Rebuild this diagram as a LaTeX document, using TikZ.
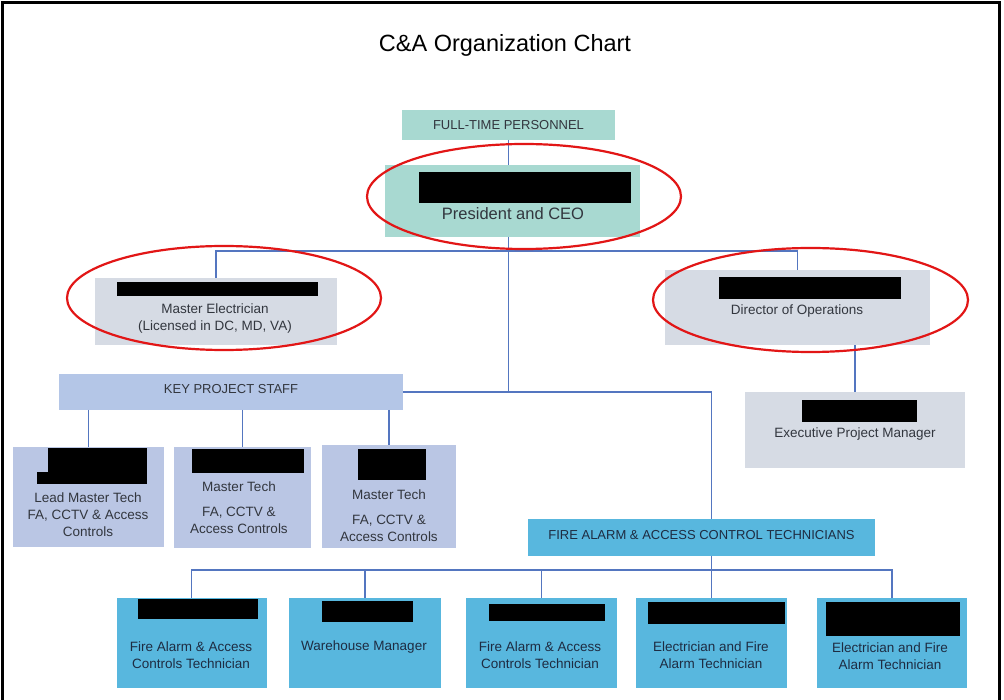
\documentclass[tikz,border=0pt]{standalone}
\usepackage{fontspec}
\setmainfont{Liberation Sans}
\usepackage{xcolor}
\definecolor{caTeal}{RGB}{168, 217, 209}
\definecolor{caGrey}{RGB}{214, 219, 228}
\definecolor{caPeri}{RGB}{180, 198, 231}
\definecolor{caLav}{RGB}{186, 198, 228}
\definecolor{caSky}{RGB}{88, 183, 222}
\definecolor{caLine}{RGB}{84, 118, 192}
\definecolor{caRing}{RGB}{226, 22, 22}
\definecolor{caInk}{RGB}{50, 54, 62}
\definecolor{caNavy}{RGB}{30, 44, 66}

\begin{document}
\begin{tikzpicture}[
    x=1pt, y=-1pt,
    orgBox/.style={
        rectangle, draw=none, outer sep=0pt, inner sep=0pt,
        text=caInk, align=center
    },
    tealBox/.style={orgBox, fill=caTeal},
    greyBox/.style={orgBox, fill=caGrey},
    periBox/.style={orgBox, fill=caPeri},
    lavBox/.style={orgBox, fill=caLav},
    skyBox/.style={orgBox, fill=caSky, text=caNavy},
    capsText/.style={font=\fontsize{13}{15}\selectfont},
    boxText/.style={
        inner sep=0pt, text=caInk, align=center,
        font=\fontsize{13.5}{17}\selectfont
    },
    skyText/.style={boxText, text=caNavy},
    redactBar/.style={fill=black},
    linkLine/.style={draw=caLine, line width=1.5pt},
    ringMark/.style={draw=caRing, line width=2.2pt}
]

    % page and frame
    \useasboundingbox[fill=white] (0,0) rectangle (1004,700);
    \draw[line width=3pt] (2.5,706) -- (2.5,2.5) -- (999.5,2.5) -- (999.5,706);

    \node[inner sep=0pt, text=black, font=\fontsize{23.5}{28}\selectfont] (title) at (505,45) {C\&A Organization Chart};

    % Boxes
    \node[tealBox, capsText, minimum width=213pt, minimum height=30pt] (fullTime) at (508.5,125) {FULL-TIME PERSONNEL};
    \node[tealBox, minimum width=255pt, minimum height=72pt] (ceo) at (512.5,201) {};

    \node[greyBox, minimum width=242pt, minimum height=67pt] (masterElec) at (216,311.5) {};
    \node[greyBox, minimum width=265pt, minimum height=75pt] (dirOps) at (797.5,307.5) {};
    \node[greyBox, minimum width=220pt, minimum height=76pt] (execPM) at (855,430) {};

    \node[periBox, capsText, minimum width=344pt, minimum height=36pt, text depth=6pt] (keyStaff) at (231,392) {KEY PROJECT STAFF};
    \node[lavBox, minimum width=151pt, minimum height=100pt] (leadTech) at (88.5,497) {};
    \node[lavBox, minimum width=137pt, minimum height=101pt] (techB) at (242.5,497.5) {};
    \node[lavBox, minimum width=134pt, minimum height=103pt] (techC) at (389,496.5) {};

    \node[skyBox, capsText, minimum width=347pt, minimum height=37pt, text depth=6pt] (fireTeam) at (701.5,537.5) {FIRE ALARM \& ACCESS CONTROL TECHNICIANS};
    \node[skyBox, minimum width=150pt, minimum height=90pt] (fa1) at (191.5,643) {};
    \node[skyBox, minimum width=152pt, minimum height=90pt] (fa2) at (365,643) {};
    \node[skyBox, minimum width=151pt, minimum height=90pt] (fa3) at (541.5,643) {};
    \node[skyBox, minimum width=151pt, minimum height=90pt] (fa4) at (711.5,643) {};
    \node[skyBox, minimum width=150pt, minimum height=90pt] (fa5) at (892,643) {};

    % Redacted names
    \fill[redactBar] (419,172) rectangle (631,203);
    \fill[redactBar] (117,282) rectangle (318,296);
    \fill[redactBar] (719,277) rectangle (901,299);
    \fill[redactBar] (802,400) rectangle (917,422);
    \fill[redactBar] (48,448) rectangle (147,484);
    \fill[redactBar] (37,472) rectangle (48,484);
    \fill[redactBar] (192,449) rectangle (304,473);
    \fill[redactBar] (358,449) rectangle (426,480);
    \fill[redactBar] (138,599) rectangle (258,619);
    \fill[redactBar] (322,601) rectangle (413,622);
    \fill[redactBar] (489,604) rectangle (605,621);
    \fill[redactBar] (648,602) rectangle (785,624);
    \fill[redactBar] (826,602) rectangle (960,636);

    % Titles
    \node[boxText, font=\fontsize{16.5}{20}\selectfont] (ceoRole) at (513,214) {President and CEO};
    \node[boxText] (elecRole) at (215,318.5) {Master Electrician\\(Licensed in DC, MD, VA)};
    \node[boxText] (opsRole) at (797,311) {Director of Operations};
    \node[boxText] (pmRole) at (855,434) {Executive Project Manager};

    \node[boxText] (leadRole) at (88,515) {Lead Master Tech\\FA, CCTV \& Access\\Controls};
    \node[boxText] (techBRole) at (239,487) {Master Tech};
    \node[boxText] (techBArea) at (239,520.5) {FA, CCTV \&\\Access Controls};
    \node[boxText] (techCRole) at (389,495) {Master Tech};
    \node[boxText] (techCArea) at (389,528.5) {FA, CCTV \&\\Access Controls};

    \node[skyText] (fa1Role) at (191,655.5) {Fire Alarm \& Access\\Controls Technician};
    \node[skyText] (fa2Role) at (364,647.5) {Warehouse Manager};
    \node[skyText] (fa3Role) at (540,655.5) {Fire Alarm \& Access\\Controls Technician};
    \node[skyText] (fa4Role) at (711,655.5) {Electrician and Fire\\Alarm Technician};
    \node[skyText] (fa5Role) at (890,656.5) {Electrician and Fire\\Alarm Technician};

    % Connectors
    \coordinate (topBus) at (509,251);
    \coordinate (lowBus) at (540,570);

    \draw[linkLine] (fullTime.south) -- (fullTime.south |- ceo.north);
    \draw[linkLine] (masterElec.north) |- (topBus) -| (dirOps.north);
    \draw[linkLine] (ceo.south -| fullTime.south) -- (fullTime.south |- keyStaff.east);
    \draw[linkLine] (keyStaff.east) -| (fireTeam.north -| fa4.north);
    \draw[linkLine] (execPM.north) -- (execPM.north |- dirOps.south);

    \foreach \kid in {leadTech, techB, techC}
        \draw[linkLine] (\kid.north |- keyStaff.south) -- (\kid.north);

    \draw[linkLine] (fireTeam.south -| fa4.north) -- (fa4.north);
    \draw[linkLine] (fa1.north) |- (lowBus) -| (fa5.north);
    \foreach \kid in {fa2, fa3}
        \draw[linkLine] (\kid.north |- lowBus) -- (\kid.north);

    % Highlight rings
    \draw[ringMark] (524,196.5) ellipse [x radius=157, y radius=52.5];
    \draw[ringMark] (224,298) ellipse [x radius=157, y radius=52];
    \draw[ringMark] (810.5,300) ellipse [x radius=157.5, y radius=52];

\end{tikzpicture}
\end{document}
